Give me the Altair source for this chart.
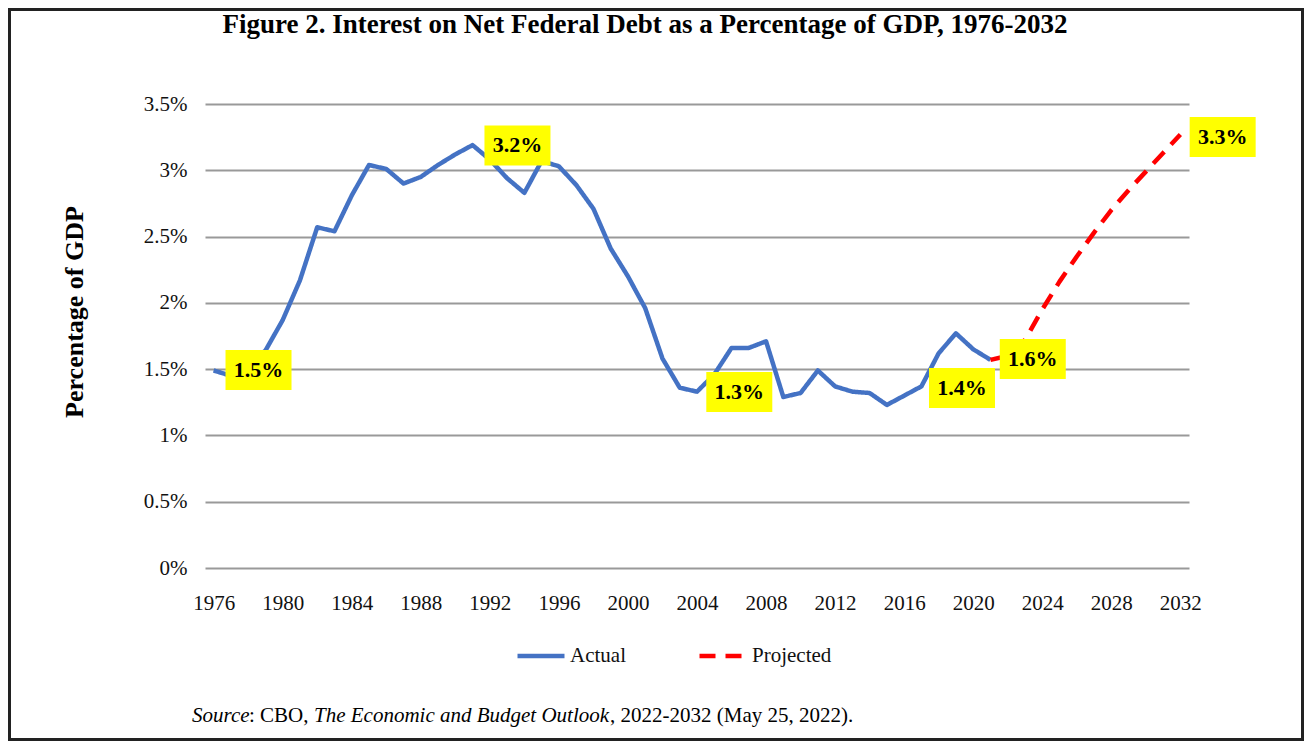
import altair as alt
import pandas as pd

# ---- data ----
actual_years = list(range(1976, 2022))
actual_values = [1.49, 1.45, 1.53, 1.64, 1.87, 2.17, 2.57, 2.54, 2.81, 3.04,
                 3.01, 2.90, 2.95, 3.04, 3.12, 3.19, 3.08, 2.94, 2.83, 3.07,
                 3.03, 2.89, 2.71, 2.41, 2.20, 1.96, 1.58, 1.36, 1.33, 1.46,
                 1.66, 1.66, 1.71, 1.29, 1.32, 1.49, 1.37, 1.33, 1.32, 1.23,
                 1.30, 1.37, 1.62, 1.77, 1.65, 1.57]
proj_years = list(range(2021, 2033))
proj_values = [1.57, 1.60, 1.72, 1.95, 2.16, 2.35, 2.53, 2.70, 2.85, 2.99, 3.13, 3.27]

x_ticks = list(range(1976, 2033, 4))
y_ticks = [0, 0.5, 1, 1.5, 2, 2.5, 3, 3.5]

ann_labels = ["1.5%", "3.2%", "1.3%", "1.4%", "1.6%", "3.3%"]
ann_years = [1978.6, 1993.6, 2006.45, 2019.35, 2023.45, 2034.45]
ann_values = [1.494, 3.187, 1.328, 1.358, 1.577, 3.251]

series_names = ["Actual", "Projected"]

df = pd.concat([
    pd.DataFrame({"year": actual_years, "value": actual_values, "series": "Actual"}),
    pd.DataFrame({"year": proj_years, "value": proj_values, "series": "Projected"}),
], ignore_index=True)
ann_df = pd.DataFrame({"label": ann_labels, "year": ann_years, "value": ann_values})
one = pd.DataFrame({"k": [0]})

FONT = "Liberation Serif"
TXT = "#111111"

xscale = alt.Scale(domain=[1975.5, 2032.5], nice=False, zero=False)
yscale = alt.Scale(domain=[0, 3.5], nice=False)

legend = alt.Legend(title=None, orient="none", legendX=310, legendY=526,
                    direction="horizontal", symbolType="stroke", symbolSize=2209,
                    symbolStrokeWidth=4.5, labelFont=FONT, labelFontSize=21,
                    labelColor=TXT, labelOffset=3, columnPadding=64, padding=0)

lines = alt.Chart(df).mark_line(strokeWidth=4.5, strokeJoin="round").encode(
    x=alt.X("year:Q", scale=xscale,
            axis=alt.Axis(values=x_ticks, format="d", title=None, grid=False,
                          domain=False, ticks=False, labelPadding=24,
                          labelFont=FONT, labelFontSize=21, labelColor=TXT)),
    y=alt.Y("value:Q", scale=yscale,
            axis=alt.Axis(values=y_ticks, labelExpr="datum.value + '%'", title=None,
                          grid=True, gridColor="#999999", gridWidth=2,
                          domain=False, ticks=False, labelPadding=18,
                          labelFont=FONT, labelFontSize=21, labelColor=TXT)),
    color=alt.Color("series:N", scale=alt.Scale(domain=series_names,
                                                range=["#4472C4", "#FF0000"]),
                    legend=legend),
    strokeDash=alt.StrokeDash("series:N", scale=alt.Scale(domain=series_names,
                                                          range=[[1, 0], [16, 10]]),
                              legend=legend),
)

RECT = "M-1.65,-1L1.65,-1L1.65,1L-1.65,1Z"
boxes = alt.Chart(ann_df).mark_point(shape=RECT, size=1600, filled=True,
                                     fill="#FFFF00", opacity=1, strokeWidth=0).encode(
    x=alt.X("year:Q", scale=xscale), y=alt.Y("value:Q", scale=yscale))
ann_text = alt.Chart(ann_df).mark_text(font=FONT, fontWeight="bold", fontSize=22,
                                       align="center", baseline="middle",
                                       color="black").encode(
    x=alt.X("year:Q", scale=xscale), y=alt.Y("value:Q", scale=yscale), text="label:N")

base = alt.Chart(one)
border = base.mark_rect(filled=False, stroke="#222222", strokeWidth=3).encode(
    x=alt.value(-195.5), x2=alt.value(1097.5), y=alt.value(-94.5), y2=alt.value(635.5))
title = base.mark_text(font=FONT, fontWeight="bold", fontSize=27, align="center",
                       baseline="alphabetic", color="black").encode(
    x=alt.value(440), y=alt.value(-71),
    text=alt.value("Figure 2. Interest on Net Federal Debt as a Percentage of GDP, 1976-2032"))
ytitle = base.mark_text(font=FONT, fontWeight="bold", fontSize=26, align="center",
                        baseline="middle", angle=270, color="black").encode(
    x=alt.value(-130), y=alt.value(208), text=alt.value("Percentage of GDP"))

src_parts = [("Source", "italic", -13), (": CBO, ", "normal", 44),
             ("The Economic and Budget Outlook", "italic", 109),
             (", 2022-2032 (May 25, 2022).", "normal", 405)]
src_layers = [
    base.mark_text(font=FONT, fontSize=21, fontStyle=sty, align="left",
                   baseline="alphabetic", color="black").encode(
        x=alt.value(px), y=alt.value(618), text=alt.value(t))
    for t, sty, px in src_parts
]

chart = alt.layer(border, lines, boxes, ann_text, title, ytitle, *src_layers).properties(
    width=984, height=464,
    autosize=alt.AutoSizeParams(type="none"),
    padding={"left": 197, "top": 96, "right": 115, "bottom": 173},
    background="white",
).configure_view(stroke=None)

chart.save("out.html", embed_options={"renderer": "svg", "actions": False})
